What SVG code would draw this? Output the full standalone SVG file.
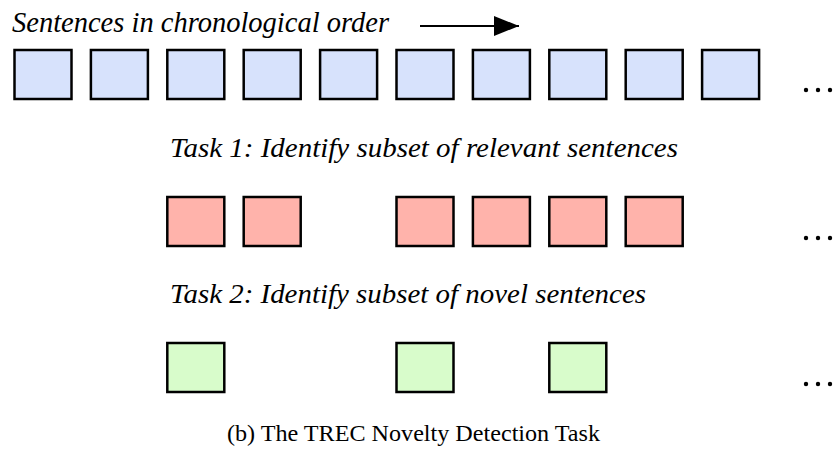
<svg xmlns="http://www.w3.org/2000/svg" width="837" height="465" viewBox="0 0 837 465">
  <defs>
    <style>
      .s { stroke: #000; stroke-width: 2.5; }
      .blue { fill: #d7e2fc; }
      .red { fill: #ffb3ab; }
      .green { fill: #d8fccb; }
      .lbl { font-family: "Liberation Serif", "DejaVu Serif", serif; font-style: italic; fill: #000; }
      .cap { font-family: "Liberation Serif", "DejaVu Serif", serif; fill: #000; }
      .dot { fill: #000; }
    </style>
    <marker id="head" viewBox="0 0 25 20" refX="25" refY="10" markerWidth="25" markerHeight="20" markerUnits="userSpaceOnUse" orient="auto">
      <path d="M0,0 L25,10 L0,20 Z" fill="#000"/>
    </marker>
    <rect id="box" width="57" height="49"/>
  </defs>

  <rect width="837" height="465" fill="#fff"/>

  <!-- header with direction arrow -->
  <g id="header">
    <text class="lbl" x="12" y="32" font-size="29" textLength="377" lengthAdjust="spacingAndGlyphs">Sentences in chronological order</text>
  </g>
  <g id="connectors">
    <line x1="420" y1="26" x2="519" y2="26" stroke="#000" stroke-width="2" marker-end="url(#head)"/>
  </g>

  <!-- all sentences -->
  <g id="row-all">
    <use href="#box" class="s blue" x="14.5" y="50"/>
    <use href="#box" class="s blue" x="90.9" y="50"/>
    <use href="#box" class="s blue" x="167.3" y="50"/>
    <use href="#box" class="s blue" x="243.7" y="50"/>
    <use href="#box" class="s blue" x="320.1" y="50"/>
    <use href="#box" class="s blue" x="396.5" y="50"/>
    <use href="#box" class="s blue" x="472.9" y="50"/>
    <use href="#box" class="s blue" x="549.3" y="50"/>
    <use href="#box" class="s blue" x="625.7" y="50"/>
    <use href="#box" class="s blue" x="702.1" y="50"/>
    <circle class="dot" cx="806" cy="90" r="2.2"/>
    <circle class="dot" cx="818" cy="90" r="2.2"/>
    <circle class="dot" cx="830" cy="90" r="2.2"/>
  </g>

  <!-- task 1: relevant sentences -->
  <g id="task1">
    <text class="lbl" x="170" y="157" font-size="27" textLength="508" lengthAdjust="spacingAndGlyphs">Task 1: Identify subset of relevant sentences</text>
  </g>
  <g id="row-relevant">
    <use href="#box" class="s red" x="167.3" y="197"/>
    <use href="#box" class="s red" x="243.7" y="197"/>
    <use href="#box" class="s red" x="396.5" y="197"/>
    <use href="#box" class="s red" x="472.9" y="197"/>
    <use href="#box" class="s red" x="549.3" y="197"/>
    <use href="#box" class="s red" x="625.7" y="197"/>
    <circle class="dot" cx="806" cy="238" r="2.2"/>
    <circle class="dot" cx="818" cy="238" r="2.2"/>
    <circle class="dot" cx="830" cy="238" r="2.2"/>
  </g>

  <!-- task 2: novel sentences -->
  <g id="task2">
    <text class="lbl" x="170" y="303" font-size="27" textLength="476" lengthAdjust="spacingAndGlyphs">Task 2: Identify subset of novel sentences</text>
  </g>
  <g id="row-novel">
    <use href="#box" class="s green" x="167.3" y="343"/>
    <use href="#box" class="s green" x="396.5" y="343"/>
    <use href="#box" class="s green" x="549.3" y="343"/>
    <circle class="dot" cx="806" cy="384" r="2.2"/>
    <circle class="dot" cx="818" cy="384" r="2.2"/>
    <circle class="dot" cx="830" cy="384" r="2.2"/>
  </g>

  <!-- caption -->
  <g id="caption">
    <text class="cap" x="227" y="441" font-size="24" textLength="373" lengthAdjust="spacingAndGlyphs">(b) The TREC Novelty Detection Task</text>
  </g>
</svg>
